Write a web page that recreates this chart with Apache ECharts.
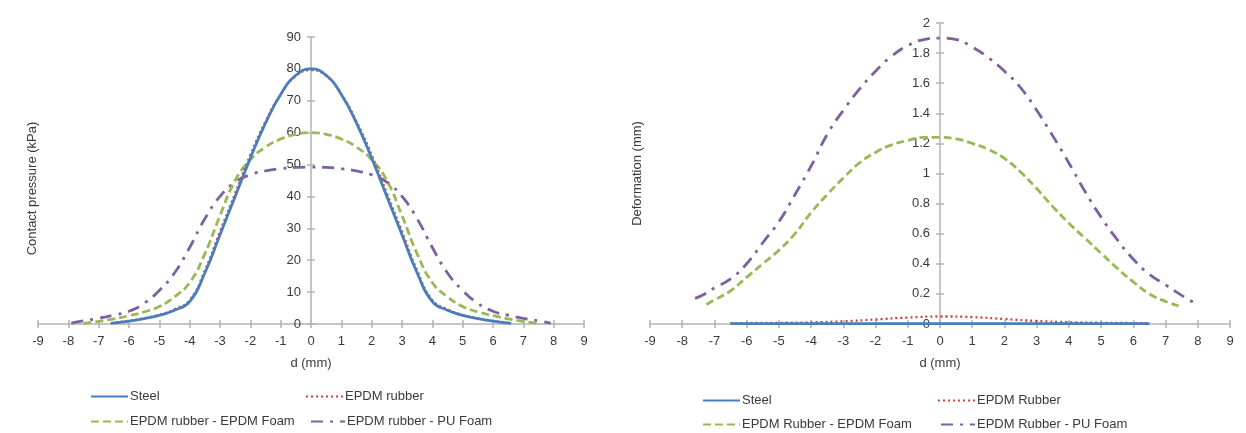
<!DOCTYPE html>
<html lang="en">

<head>
    <meta charset="UTF-8">
    <title>Contact pressure and deformation</title>
    <style>
        html, body { margin: 0; padding: 0; background: #fff; }
        #main { width: 1246px; height: 433px; }
    </style>
</head>

<body>
    <div id="main"></div>
    <script src="https://cdn.jsdelivr.net/npm/echarts@6/dist/echarts.min.js"></script>
    <script>
        // 左图：接触压力 (kPa)，[d, p]
        var pSteel = [[-6.6, 0.2], [-6, 0.9], [-5.5, 1.7], [-5, 2.7], [-4.5, 4.3], [-4, 7], [-3.5, 16], [-3, 28], [-2.5, 40], [-2, 52], [-1.5, 63], [-1, 72], [-0.5, 78], [0, 80],
            [0.5, 78], [1, 72], [1.5, 63], [2, 52], [2.5, 40], [3, 28], [3.5, 16], [4, 7], [4.5, 4.3], [5, 2.7], [5.5, 1.7], [6, 0.9], [6.6, 0.2]];
        var pRubber = [[-6.6, 0.3], [-6, 1], [-5.5, 1.8], [-5, 2.9], [-4.5, 4.6], [-4, 7.5], [-3.5, 16.8], [-3, 29], [-2.5, 41], [-2, 53], [-1.5, 63.5], [-1, 72], [-0.5, 77.8], [0, 79.6],
            [0.5, 77.8], [1, 72], [1.5, 63.5], [2, 53], [2.5, 41], [3, 29], [3.5, 16.8], [4, 7.5], [4.5, 4.6], [5, 2.9], [5.5, 1.8], [6, 1], [6.6, 0.3]];
        var pEpdmFoam = [[-7.5, 0.2], [-7, 0.8], [-6.5, 1.6], [-6, 2.6], [-5.5, 3.8], [-5, 5.5], [-4.5, 8.5], [-4, 13], [-3.5, 22], [-3, 34], [-2.5, 45], [-2, 51.5], [-1.5, 55.5], [-1, 58], [-0.5, 59.5], [0, 60],
            [0.5, 59.5], [1, 58], [1.5, 55.5], [2, 51.5], [2.5, 45], [3, 34], [3.5, 22], [4, 13], [4.5, 8.5], [5, 5.5], [5.5, 3.8], [6, 2.6], [6.5, 1.6], [7, 0.8], [7.5, 0.2]];
        var pPuFoam = [[-7.9, 0.3], [-7.5, 1], [-7, 1.8], [-6.5, 2.8], [-6, 4], [-5.5, 6.5], [-5, 10.5], [-4.5, 16], [-4, 24], [-3.5, 33], [-3, 40], [-2.5, 44.5], [-2, 46.8], [-1.5, 48], [-1, 48.7], [-0.5, 49.1], [0, 49.2],
            [0.5, 49.1], [1, 48.7], [1.5, 48], [2, 46.8], [2.5, 44.5], [3, 40], [3.5, 33], [4, 24], [4.5, 16], [5, 10.5], [5.5, 6.5], [6, 4], [6.5, 2.8], [7, 1.8], [7.5, 1], [7.9, 0.3]];

        // 右图：变形 (mm)，[d, u]
        var uSteel = [[-6.5, 0.002], [-3, 0.002], [0, 0.003], [3, 0.002], [6.5, 0.002]];
        var uRubber = [[-6.5, 0.006], [-5, 0.008], [-4, 0.011], [-3, 0.018], [-2, 0.03], [-1, 0.043], [0, 0.05], [1, 0.046], [2, 0.033], [3, 0.02], [4, 0.012], [5, 0.008], [6.5, 0.006]];
        var uEpdmFoam = [[-7.25, 0.13], [-7, 0.16], [-6.5, 0.22], [-6, 0.31], [-5.5, 0.4], [-5, 0.49], [-4.5, 0.6], [-4, 0.74], [-3.5, 0.86], [-3, 0.97], [-2.5, 1.07], [-2, 1.14], [-1.5, 1.19], [-1, 1.22], [-0.5, 1.24], [0, 1.24],
            [0.5, 1.23], [1, 1.2], [1.5, 1.16], [2, 1.1], [2.5, 1.01], [3, 0.9], [3.5, 0.78], [4, 0.67], [4.5, 0.57], [5, 0.47], [5.5, 0.37], [6, 0.28], [6.5, 0.2], [7, 0.15], [7.4, 0.12]];
        var uPuFoam = [[-7.6, 0.17], [-7.3, 0.2], [-7, 0.24], [-6.5, 0.3], [-6, 0.4], [-5.5, 0.54], [-5, 0.68], [-4.5, 0.86], [-4, 1.05], [-3.5, 1.26], [-3, 1.42], [-2.5, 1.56], [-2, 1.68], [-1.5, 1.78], [-1, 1.85], [-0.5, 1.89], [0, 1.9],
            [0.5, 1.89], [1, 1.84], [1.5, 1.77], [2, 1.68], [2.5, 1.57], [3, 1.42], [3.5, 1.25], [4, 1.07], [4.5, 0.88], [5, 0.71], [5.5, 0.56], [6, 0.43], [6.5, 0.33], [7, 0.26], [7.5, 0.19], [7.9, 0.14]];

        var namesL = ['Steel', 'EPDM rubber', 'EPDM rubber - EPDM Foam', 'EPDM rubber - PU Foam'];
        var namesR = ['Steel', 'EPDM Rubber', 'EPDM Rubber - EPDM Foam', 'EPDM Rubber - PU Foam'];

        var font = 'Liberation Sans, Arial, sans-serif';
        var txt = '#3a3a3a';
        var axisGray = '#b3b3b3';

        // 线型：实线 / 点线 / 虚线 / 点划线
        var styles = [
            { color: '#4a7ebb', width: 2.8, type: 'solid' },
            { color: '#d0403c', width: 2.3, type: [2, 3] },
            { color: '#98b954', width: 2.8, type: [8, 4] },
            { color: '#7d60a0', width: 2.8, type: [12, 7, 3, 7] }
        ];

        function mkSeries(name, data, i, idx) {
            return {
                name: name,
                type: 'line',
                xAxisIndex: idx,
                yAxisIndex: idx,
                data: data,
                smooth: true,
                symbol: 'none',
                lineStyle: styles[i],
                itemStyle: { color: styles[i].color },
                z: 10 - i
            };
        }

        function xAx(grid, inside) {
            return {
                type: 'value',
                gridIndex: grid,
                min: -9,
                max: 9,
                interval: 1,
                position: 'bottom',
                name: inside ? '' : 'd (mm)',
                nameLocation: 'middle',
                nameGap: 33,
                nameTextStyle: { color: txt, fontSize: 13, fontFamily: font },
                axisLine: { show: !inside, onZero: false, lineStyle: { color: axisGray, width: 1.5 } },
                axisTick: { show: true, inside: inside, length: 4, lineStyle: { color: axisGray, width: 1.5 } },
                axisLabel: { show: !inside, color: txt, fontSize: 13, fontFamily: font, margin: 11 },
                splitLine: { show: false }
            };
        }

        // y轴放在 d=0 处：用负 offset 把左侧轴移进网格
        function yAx(grid, max, step, title, gap, off, pad, inside) {
            return {
                type: 'value',
                gridIndex: grid,
                min: 0,
                max: max,
                interval: step,
                position: 'left',
                offset: off,
                name: inside ? '' : title,
                nameLocation: 'middle',
                nameGap: gap,
                nameTextStyle: { color: txt, fontSize: 13, fontFamily: font, padding: [0, pad, 0, 0] },
                axisLine: { show: !inside, onZero: false, lineStyle: { color: axisGray, width: 1.5 } },
                axisTick: { show: true, inside: inside, length: 4, lineStyle: { color: axisGray, width: 1.5 } },
                axisLabel: { show: !inside, color: txt, fontSize: 13, fontFamily: font, margin: 10 },
                splitLine: { show: false }
            };
        }

        // 图例，每项单独放置
        var legendPos = [
            [90, 397], [305, 397], [90, 422], [310, 422],
            [702, 401], [937, 401], [702, 425], [940, 425]
        ];
        var legends = [];
        var allNames = namesL.concat(namesR);
        for (var i = 0; i < allNames.length; i++) {
            legends.push({
                data: [allNames[i]],
                left: legendPos[i][0],
                top: legendPos[i][1] - 7,
                itemWidth: i % 4 == 3 ? 34 : 37,
                itemHeight: 14,
                itemGap: 0,
                padding: 0,
                selectedMode: false,
                itemStyle: { opacity: 0 },
                textStyle: { color: txt, fontSize: 13, fontFamily: font, padding: [0, 0, 0, -3] }
            });
        }

        var myChart = echarts.init(document.getElementById('main'));
        var option = {
            backgroundColor: '#fff',
            animation: false,
            legend: legends,
            grid: [
                { left: 38, right: 662, top: 37, bottom: 109, containLabel: false, outerBoundsMode: 'none' },
                { left: 650, right: 16, top: 23, bottom: 109, containLabel: false, outerBoundsMode: 'none' }
            ],
            xAxis: [xAx(0, false), xAx(1, false), xAx(0, true), xAx(1, true)],
            yAxis: [
                yAx(0, 90, 10, 'Contact pressure (kPa)', 272, -273, 16, false),
                yAx(1, 2, 0.2, 'Deformation (mm)', 296, -290, 0, false),
                yAx(0, 90, 10, '', 0, -273, 0, true),
                yAx(1, 2, 0.2, '', 0, -290, 0, true)
            ],
            series: [
                mkSeries(namesL[0], pSteel, 0, 0),
                mkSeries(namesL[1], pRubber, 1, 0),
                mkSeries(namesL[2], pEpdmFoam, 2, 0),
                mkSeries(namesL[3], pPuFoam, 3, 0),
                mkSeries(namesR[0], uSteel, 0, 1),
                mkSeries(namesR[1], uRubber, 1, 1),
                mkSeries(namesR[2], uEpdmFoam, 2, 1),
                mkSeries(namesR[3], uPuFoam, 3, 1)
            ]
        };
        myChart.setOption(option);
    </script>
</body>

</html>
